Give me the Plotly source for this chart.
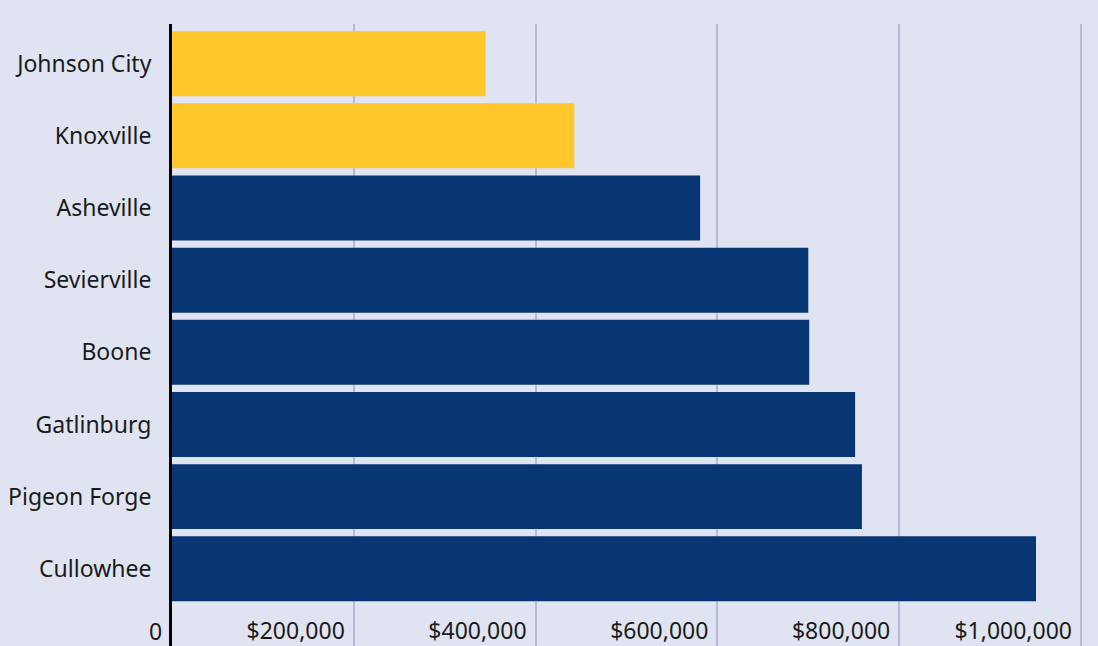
import plotly.graph_objects as go

cities = ["Johnson City", "Knoxville", "Asheville", "Sevierville", "Boone",
          "Gatlinburg", "Pigeon Forge", "Cullowhee"]
values = [345000, 442500, 581000, 700000, 701000, 751500, 759000, 950500]
colors = ["#FFC72C", "#FFC72C", "#073672", "#073672", "#073672",
          "#073672", "#073672", "#073672"]
tick_vals = [0, 200000, 400000, 600000, 800000, 1000000]
tick_text = ["0", "$200,000", "$400,000", "$600,000", "$800,000", "$1,000,000"]

fig = go.Figure(go.Bar(
    x=values, y=cities, orientation="h",
    marker=dict(color=colors, line=dict(width=0)),
    hoverinfo="x+y",
))

fig.update_layout(
    width=1098, height=646,
    margin=dict(l=172, r=0, t=24, b=0),
    paper_bgcolor="#E0E4F2", plot_bgcolor="#E0E4F2",
    bargap=0.1,
    font=dict(family="Noto Sans, Open Sans, sans-serif", size=23, color="#1a1a1a"),
    showlegend=False,
)
fig.update_xaxes(
    range=[0, 1018700],
    tickvals=tick_vals[1:], ticktext=tick_text[1:],
    ticklabelposition="inside left",
    ticklabelshift=-9,
    ticklabelstandoff=-4,
    showgrid=True, gridcolor="#B8BBD3", gridwidth=2,
    zeroline=False, showline=False, ticks="",
    tickfont=dict(size=23, color="#1a1a1a"),
)
fig.update_yaxes(
    categoryorder="array", categoryarray=cities,
    range=[8.07, -0.55],
    showgrid=False, zeroline=False,
    showline=True, linecolor="#000000", linewidth=3,
    ticks="", ticklen=0,
    ticklabelstandoff=13,
    tickfont=dict(size=23, color="#1a1a1a"),
)
fig.add_annotation(
    x=tick_vals[0], xref="x", y=0, yref="paper",
    text=tick_text[0], showarrow=False,
    xanchor="right", yanchor="bottom", xshift=-9, yshift=2,
    height=24, valign="middle", borderpad=0,
    font=dict(size=23, color="#1a1a1a"),
)

fig.write_html("out.html")
